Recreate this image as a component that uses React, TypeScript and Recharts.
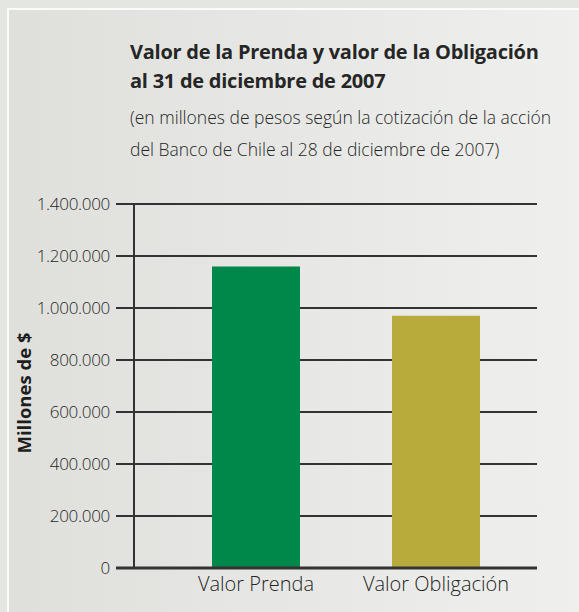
import { BarChart, Bar, Cell, XAxis, YAxis, CartesianGrid } from 'recharts';

const categories = ['Valor Prenda', 'Valor Obligación'];
const values = [1160000, 970000];
const barColors = ['#00874a', '#b8aa3b'];
const yTicks = [0, 200000, 400000, 600000, 800000, 1000000, 1200000, 1400000];

const data = categories.map((name, i) => ({ name, value: values[i] }));

const FONT = '"Open Sans", sans-serif';
const INK = '#333333';
const TEXT = '#262626';

const fmt = (v: number) => String(v).replace(/\B(?=(\d{3})+(?!\d))/g, '.');

const YTick = (props: any) => {
  const { x, y, payload } = props;
  const isZero = payload.value === 0;
  return (
    <g>
      <line x1={x + 6} x2={x + 24} y1={y} y2={y} stroke={INK} strokeWidth={isZero ? 3 : 2} />
      <text
        x={x}
        y={y}
        dy="0.35em"
        textAnchor="end"
        fontFamily={FONT}
        fontWeight={300}
        fontSize={17}
        fill={TEXT}
        letterSpacing={-0.3}
      >
        {fmt(payload.value)}
      </text>
    </g>
  );
};

const App = () => {
  return (
    <div style={{ position: 'absolute', left: 0, top: 0, width: 579, height: 612, background: '#e4e6e2', overflow: 'hidden' }}>
      <div
        style={{
          position: 'absolute',
          left: 7,
          top: 8,
          width: 572,
          height: 604,
          borderLeft: '2px solid #fbfbfa',
          borderTop: '2px solid #fbfbfa',
          background: 'linear-gradient(to right, #dfe0dc, #eff0ee)',
        }}
      />
      <div style={{ position: 'absolute', left: 130, top: 37, fontFamily: FONT, color: '#262626', width: 449 }}>
        <div style={{ fontSize: 20, fontWeight: 700, lineHeight: '29px', letterSpacing: -0.25 }}>
          Valor de la Prenda y valor de la Obligación
          <br />
          al 31 de diciembre de 2007
        </div>
        <div style={{ fontSize: 17.5, fontWeight: 300, lineHeight: '32px', marginTop: 6, color: TEXT }}>
          (en millones de pesos según la cotización de la acción
          <br />
          del Banco de Chile al 28 de diciembre de 2007)
        </div>
      </div>
      <div
        style={{
          position: 'absolute',
          left: 23,
          top: 393,
          transform: 'translate(-50%, -50%) rotate(-90deg)',
          fontFamily: FONT,
          fontWeight: 700,
          fontSize: 18.5,
          color: '#1e1e1e',
          whiteSpace: 'nowrap',
        }}
      >
        Millones de $
      </div>
      <div style={{ position: 'absolute', left: 0, top: 0 }}>
        <BarChart width={579} height={612} data={data} margin={{ top: 204, right: 42, bottom: 14, left: 0 }}>
          <CartesianGrid vertical={false} stroke={INK} strokeWidth={2} />
          <XAxis
            dataKey="name"
            height={30}
            padding={{ left: 32, right: 11 }}
            axisLine={{ stroke: INK, strokeWidth: 3 }}
            tickLine={false}
            tickSize={0}
            tickMargin={9}
            tick={{ fontFamily: FONT, fontWeight: 300, fontSize: 20, fill: TEXT }}
          />
          <YAxis
            width={134}
            domain={[0, 1400000]}
            ticks={yTicks}
            axisLine={{ stroke: INK, strokeWidth: 2 }}
            tickLine={false}
            tickSize={18}
            tickMargin={6}
            tick={<YTick />}
          />
          <Bar dataKey="value" barSize={88} isAnimationActive={false}>
            {data.map((d, i) => (
              <Cell key={d.name} fill={barColors[i]} />
            ))}
          </Bar>
        </BarChart>
      </div>
    </div>
  );
};

export default App;
